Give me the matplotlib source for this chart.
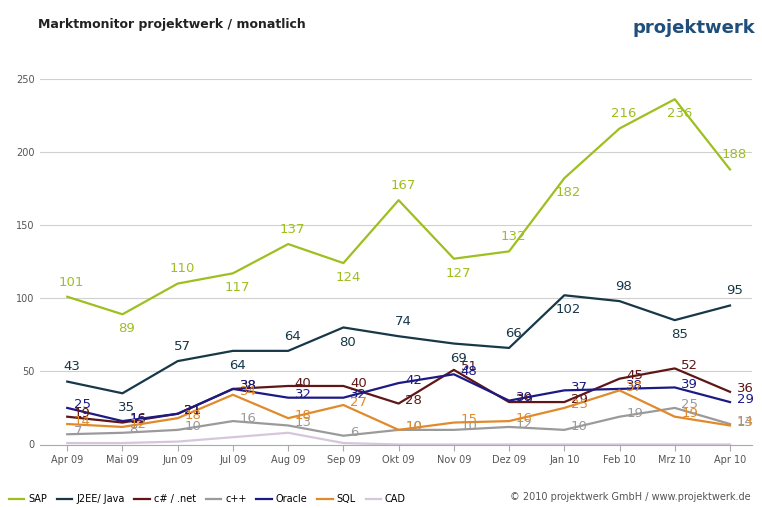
import matplotlib.pyplot as plt

months = ["Apr 09", "Mai 09", "Jun 09", "Jul 09", "Aug 09", "Sep 09", "Okt 09",
          "Nov 09", "Dez 09", "Jan 10", "Feb 10", "Mrz 10", "Apr 10"]
sap = [101, 89, 110, 117, 137, 124, 167, 127, 132, 182, 216, 236, 188]
j2ee = [43, 35, 57, 64, 64, 80, 74, 69, 66, 102, 98, 85, 95]
csharp = [19, 15, 21, 38, 40, 40, 28, 51, 29, 29, 45, 52, 36]
cpp = [7, 8, 10, 16, 13, 6, 10, 10, 12, 10, 19, 25, 14]
oracle = [25, 16, 21, 38, 32, 32, 42, 48, 30, 37, 38, 39, 29]
sql = [14, 12, 18, 34, 18, 27, 10, 15, 16, 25, 37, 19, 13]
cad = [1, 1, 2, 5, 8, 1, 0, 0, 0, 0, 0, 0, 0]

series = [
    ("SAP", sap, "#9dbf1f", True),
    ("J2EE/ Java", j2ee, "#173848", True),
    ("c# / .net", csharp, "#5e1616", True),
    ("c++", cpp, "#9a9a9a", True),
    ("Oracle", oracle, "#1c1a84", True),
    ("SQL", sql, "#e08a2c", True),
    ("CAD", cad, "#d6c6dc", False),
]

fig = plt.figure(figsize=(7.62, 5.08), dpi=100)
ax = fig.add_axes([0.052, 0.125, 0.935, 0.72])
x = list(range(len(months)))
for name, vals, col, lab in series:
    ax.plot(x, vals, color=col, lw=1.6, label=name)
    if lab:
        for i, v in enumerate(vals):
            # big series get their label above the point, small ones beside it
            if name in ("SAP", "J2EE/ Java"):
                ax.text(i + 0.08, v - 10 if i % 2 else v + 10, str(v),
                        color=col, fontsize=9.5, ha="center", va="center")
            else:
                ax.text(i + 0.12, v + 2, str(v),
                        color=col, fontsize=9.5, ha="left", va="center")

ax.set_xlim(-0.5, 12.4)
ax.set_ylim(0, 250)
ax.set_yticks(range(0, 251, 50))
ax.set_xticks(x)
ax.set_xticklabels(months, fontsize=7, color="#555555")
ax.tick_params(axis="y", labelsize=7, colors="#555555", length=0)
ax.tick_params(axis="x", length=4, color="#aaaaaa")
ax.grid(axis="y", color="#d0d0d0", lw=0.8)
for s in ["top", "right", "left"]:
    ax.spines[s].set_visible(False)
ax.spines["bottom"].set_color("#aaaaaa")

fig.text(0.05, 0.945, "Marktmonitor projektwerk / monatlich", fontsize=9, fontweight="bold", color="#222222")
fig.text(0.83, 0.935, "projektwerk", fontsize=13, fontweight="bold", color="#1f4f7a")
fig.text(0.985, 0.015, "© 2010 projektwerk GmbH / www.projektwerk.de", fontsize=7, color="#555555", ha="right")
fig.legend(loc="lower left", bbox_to_anchor=(0.0, -0.01), ncol=7, fontsize=7, frameon=False,
           handlelength=1.6, columnspacing=1.0, handletextpad=0.4)
fig.savefig("out.png")
